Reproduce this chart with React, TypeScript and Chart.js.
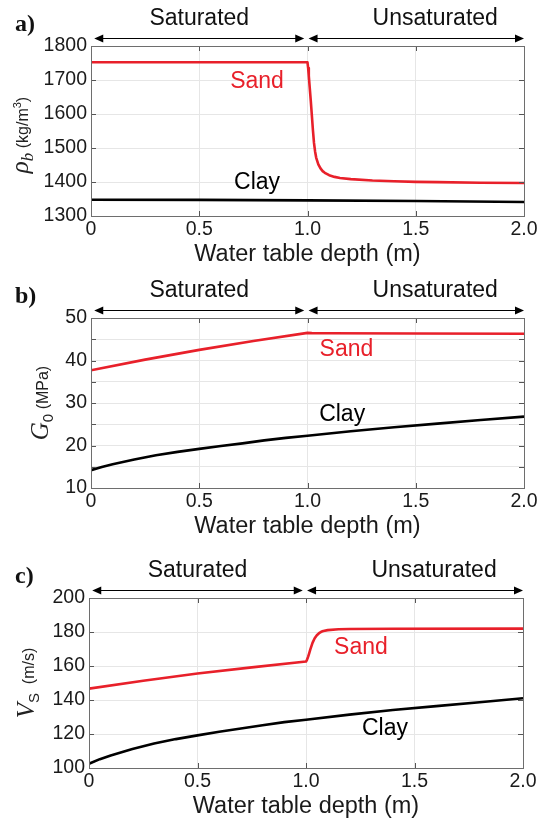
import React, { useEffect, useRef } from 'react';
import { Chart, registerables } from 'chart.js';

Chart.register(...registerables);

// ---------- shared axis data ----------
const depthTickLabels = ['0', '0.5', '1.0', '1.5', '2.0'];
const regionLabels = ['Saturated', 'Unsaturated'];
const regionLabelDepths = [0.5, 1.59];
const regionSpans = [[0.015, 0.985], [1.005, 2.0]];
const panelLetters = ['a)', 'b)', 'c)'];
const seriesNames = ['Sand', 'Clay'];

// ---------- panel a: bulk density ----------
const densitySandDepth = [0, 0.5, 1.0, 1.003, 1.006, 1.01, 1.015, 1.02, 1.025, 1.03, 1.035, 1.04, 1.05, 1.06, 1.07, 1.08, 1.1, 1.125, 1.15, 1.2, 1.3, 1.4, 1.5, 1.6, 1.8, 2.0];
const densitySand = [1752, 1752, 1752, 1735, 1712, 1680, 1640, 1597, 1553, 1515, 1490, 1472, 1452, 1440, 1432, 1427, 1420, 1415, 1412, 1408.5, 1404.5, 1402, 1400.5, 1399.5, 1398, 1397];
const densityClayDepth = [0, 0.5, 1.0, 1.5, 2.0];
const densityClay = [1348, 1347.5, 1346, 1344, 1341];
const densityTicks = [1300, 1400, 1500, 1600, 1700, 1800];
const densityLabelAnchors = [[0.767, 1694], [0.767, 1397]];

// ---------- panel b: shear modulus ----------
const modulusSandDepth = [0, 0.25, 0.5, 0.75, 1.0, 1.02, 1.1, 1.5, 2.0];
const modulusSand = [37.7, 40.2, 42.5, 44.6, 46.5, 46.45, 46.4, 46.35, 46.3];
const modulusClayDepth = [0, 0.05, 0.1, 0.2, 0.3, 0.4, 0.5, 0.6, 0.7, 0.8, 0.9, 1.0, 1.2, 1.4, 1.6, 1.8, 2.0];
const modulusClay = [14.2, 14.95, 15.6, 16.7, 17.7, 18.5, 19.2, 19.9, 20.5, 21.2, 21.8, 22.3, 23.35, 24.3, 25.15, 26.0, 26.8];
const modulusTicks = [10, 15, 20, 25, 30, 35, 40, 45, 50];
const modulusTickLabels = ['10', '', '20', '', '30', '', '40', '', '50'];
const modulusLabelAnchors = [[1.18, 42.5], [1.16, 27.2]];

// ---------- panel c: shear wave velocity ----------
const velocitySandDepth = [0, 0.25, 0.5, 0.75, 1.0, 1.005, 1.01, 1.015, 1.02, 1.03, 1.04, 1.05, 1.06, 1.07, 1.08, 1.1, 1.15, 1.2, 1.4, 2.0];
const velocitySand = [146.7, 151.3, 155.6, 159.2, 162.6, 163.8, 165.5, 167.6, 169.8, 173.6, 176.3, 178.1, 179.3, 180.1, 180.6, 181.1, 181.6, 181.8, 181.9, 182];
const velocityClayDepth = [0, 0.05, 0.1, 0.2, 0.3, 0.4, 0.5, 0.6, 0.7, 0.8, 0.9, 1.0, 1.2, 1.4, 1.6, 1.8, 2.0];
const velocityClay = [102.5, 105.2, 107.4, 111.2, 114.4, 117.0, 119.2, 121.3, 123.2, 125.2, 127.0, 128.4, 131.4, 134.1, 136.4, 138.7, 141.0];
const velocityTicks = [100, 120, 140, 160, 180, 200];
const velocityLabelAnchors = [[1.253, 170.6], [1.364, 122.9]];

const RED = '#e8202a';
const SANS = '"Liberation Sans", Arial, Helvetica, sans-serif';
const SERIF = '"Liberation Serif", "Times New Roman", serif';
const W = 546;
const H = 273;

type Piece = { text: string; font: string; dy?: number };

type Panel = {
  top: number;
  plotLeft: number;
  plotRight: number;
  plotTop: number;
  plotBottom: number;
  titlePad: number;
  yTitleX: number;
  yTitleShift: number;
  yTitle: Piece[];
  sandX: number[];
  sandY: number[];
  clayX: number[];
  clayY: number[];
  ticks: number[];
  tickLabels: string[];
  anchors: number[][];
  letter: string;
};

const panels: Panel[] = [
  {
    top: 0, plotLeft: 91, plotRight: 524, plotTop: 46, plotBottom: 216, titlePad: 7,
    yTitleX: 22, yTitleShift: 4,
    yTitle: [
      { text: 'ρ', font: `italic 25px ${SERIF}` },
      { text: 'b', font: `italic 17px ${SERIF}`, dy: 5 },
      { text: ' (kg/m', font: `16px ${SANS}` },
      { text: '3', font: `11px ${SANS}`, dy: -7 },
      { text: ')', font: `16px ${SANS}` },
    ],
    sandX: densitySandDepth, sandY: densitySand, clayX: densityClayDepth, clayY: densityClay,
    ticks: densityTicks, tickLabels: densityTicks.map(String), anchors: densityLabelAnchors, letter: panelLetters[0],
  },
  {
    top: 273, plotLeft: 91, plotRight: 524, plotTop: 45, plotBottom: 215, titlePad: 8,
    yTitleX: 42, yTitleShift: 0,
    yTitle: [
      { text: 'G', font: `italic 25px ${SERIF}` },
      { text: '0', font: `15px ${SANS}`, dy: 5 },
      { text: ' (MPa)', font: `16px ${SANS}` },
    ],
    sandX: modulusSandDepth, sandY: modulusSand, clayX: modulusClayDepth, clayY: modulusClay,
    ticks: modulusTicks, tickLabels: modulusTickLabels, anchors: modulusLabelAnchors, letter: panelLetters[1],
  },
  {
    top: 546, plotLeft: 89, plotRight: 523, plotTop: 52, plotBottom: 222, titlePad: 1,
    yTitleX: 28, yTitleShift: 0,
    yTitle: [
      { text: 'V', font: `italic 25px ${SERIF}` },
      { text: 'S', font: `15px ${SANS}`, dy: 5 },
      { text: '  (m/s)', font: `16px ${SANS}` },
    ],
    sandX: velocitySandDepth, sandY: velocitySand, clayX: velocityClayDepth, clayY: velocityClay,
    ticks: velocityTicks, tickLabels: velocityTicks.map(String), anchors: velocityLabelAnchors, letter: panelLetters[2],
  },
];

function zip(xs: number[], ys: number[]) {
  return xs.map((x, i) => ({ x, y: ys[i] }));
}

function arrowHead(ctx: CanvasRenderingContext2D, x: number, y: number, dir: number) {
  ctx.beginPath();
  ctx.moveTo(x, y);
  ctx.lineTo(x - dir * 9, y - 4);
  ctx.lineTo(x - dir * 9, y + 4);
  ctx.closePath();
  ctx.fill();
}

function makeDecor(panel: Panel) {
  return {
    id: 'decor',
    afterDatasetsDraw(chart: any) {
      const ctx: CanvasRenderingContext2D = chart.ctx;
      const { left, right, top, bottom } = chart.chartArea;
      const xs = chart.scales.x;
      const ys = chart.scales.y;
      ctx.save();
      // tick marks (inward, all four sides)
      ctx.strokeStyle = '#555';
      ctx.lineWidth = 1;
      ctx.beginPath();
      panel.ticks.forEach((v) => {
        const py = Math.round(ys.getPixelForValue(v)) + 0.5;
        ctx.moveTo(left, py); ctx.lineTo(left + 5, py);
        ctx.moveTo(right, py); ctx.lineTo(right - 5, py);
      });
      [0, 0.5, 1, 1.5, 2].forEach((v) => {
        const px = Math.round(xs.getPixelForValue(v)) + 0.5;
        ctx.moveTo(px, top); ctx.lineTo(px, top + 5);
        ctx.moveTo(px, bottom); ctx.lineTo(px, bottom - 5);
      });
      ctx.stroke();
      // box
      ctx.strokeStyle = '#6e6e6e';
      ctx.strokeRect(Math.round(left) + 0.5, Math.round(top) + 0.5, Math.round(right - left), Math.round(bottom - top));
      // series labels
      ctx.font = `23px ${SANS}`;
      ctx.textAlign = 'center';
      ctx.textBaseline = 'middle';
      panel.anchors.forEach((a, i) => {
        ctx.fillStyle = i === 0 ? RED : '#000';
        ctx.fillText(seriesNames[i], xs.getPixelForValue(a[0]), ys.getPixelForValue(a[1]));
      });
      // region labels and arrows
      ctx.fillStyle = '#111';
      ctx.font = `23px ${SANS}`;
      regionLabels.forEach((t, i) => {
        ctx.fillText(t, xs.getPixelForValue(regionLabelDepths[i]), top - 27);
      });
      const ay = Math.round(top - 8) + 0.5;
      ctx.strokeStyle = '#000';
      ctx.fillStyle = '#000';
      ctx.lineWidth = 1;
      regionSpans.forEach((s) => {
        const x0 = xs.getPixelForValue(s[0]);
        const x1 = xs.getPixelForValue(s[1]);
        ctx.beginPath();
        ctx.moveTo(x0 + 4, ay); ctx.lineTo(x1 - 4, ay);
        ctx.stroke();
        arrowHead(ctx, x0, ay, -1);
        arrowHead(ctx, x1, ay, 1);
      });
      // panel letter
      ctx.font = `bold 24px ${SERIF}`;
      ctx.textAlign = 'left';
      ctx.textBaseline = 'alphabetic';
      ctx.fillStyle = '#111';
      ctx.fillText(panel.letter, 15, top - 15);
      // y-axis title (rotated, mixed fonts)
      let total = 0;
      panel.yTitle.forEach((p) => { ctx.font = p.font; total += ctx.measureText(p.text).width; });
      ctx.translate(panel.yTitleX, (top + bottom) / 2 + panel.yTitleShift);
      ctx.rotate(-Math.PI / 2);
      ctx.fillStyle = '#222';
      let cx = -total / 2;
      panel.yTitle.forEach((p) => {
        ctx.font = p.font;
        ctx.fillText(p.text, cx, 6 + (p.dy || 0));
        cx += ctx.measureText(p.text).width;
      });
      ctx.restore();
    },
  };
}

function PanelChart({ panel }: { panel: Panel }) {
  const ref = useRef<HTMLCanvasElement>(null);
  useEffect(() => {
    if (!ref.current) return;
    const chart = new Chart(ref.current, {
      type: 'line',
      data: {
        datasets: [
          {
            label: seriesNames[0],
            data: zip(panel.sandX, panel.sandY),
            borderColor: RED,
            borderWidth: 2.6,
            borderJoinStyle: 'round',
            borderCapStyle: 'butt',
            pointRadius: 0,
            tension: 0,
            fill: false,
          },
          {
            label: seriesNames[1],
            data: zip(panel.clayX, panel.clayY),
            borderColor: '#000',
            borderWidth: 2.6,
            borderJoinStyle: 'round',
            borderCapStyle: 'butt',
            pointRadius: 0,
            tension: 0,
            fill: false,
          },
        ],
      } as any,
      options: {
        responsive: false,
        maintainAspectRatio: false,
        animation: false,
        layout: { padding: { left: 0, right: W - panel.plotRight, top: panel.plotTop, bottom: 0 } },
        plugins: { legend: { display: false }, tooltip: { enabled: false } },
        scales: {
          x: {
            type: 'linear',
            min: 0,
            max: 2,
            ticks: {
              stepSize: 0.5,
              autoSkip: false,
              maxRotation: 0,
              padding: 4,
              color: '#1a1a1a',
              font: { family: SANS, size: 19.5, lineHeight: 1 },
              callback: (v: any) => depthTickLabels[Math.round(Number(v) * 2)] ?? '',
            },
            grid: { color: '#e6e6e6', drawTicks: false, lineWidth: 1 },
            border: { display: false },
            title: {
              display: true,
              text: 'Water table depth (m)',
              color: '#1a1a1a',
              font: { family: SANS, size: 23.5, lineHeight: 1 },
              padding: { top: 0, bottom: panel.titlePad },
            },
            afterFit: (s: any) => { s.height = H - panel.plotBottom; },
          },
          y: {
            type: 'linear',
            min: panel.ticks[0],
            max: panel.ticks[panel.ticks.length - 1],
            afterBuildTicks: (s: any) => { s.ticks = panel.ticks.map((v) => ({ value: v })); },
            ticks: {
              autoSkip: false,
              padding: 4,
              color: '#1a1a1a',
              font: { family: SANS, size: 19.5, lineHeight: 1 },
              callback: (v: any) => {
                const i = panel.ticks.indexOf(Number(v));
                return i >= 0 ? panel.tickLabels[i] : '';
              },
            },
            grid: { color: '#e6e6e6', drawTicks: false, lineWidth: 1 },
            border: { display: false },
            afterFit: (s: any) => { s.width = panel.plotLeft; },
          },
        },
      } as any,
      plugins: [makeDecor(panel)],
    });
    return () => chart.destroy();
  }, [panel]);
  return (
    <canvas
      ref={ref}
      width={W}
      height={H}
      style={{ position: 'absolute', left: 0, top: panel.top, width: W, height: H }}
    />
  );
}

export default function App() {
  return (
    <div style={{ position: 'absolute', left: 0, top: 0, width: W, height: 819, background: '#fff', overflow: 'hidden' }}>
      {panels.map((p, i) => (
        <PanelChart key={i} panel={p} />
      ))}
    </div>
  );
}
